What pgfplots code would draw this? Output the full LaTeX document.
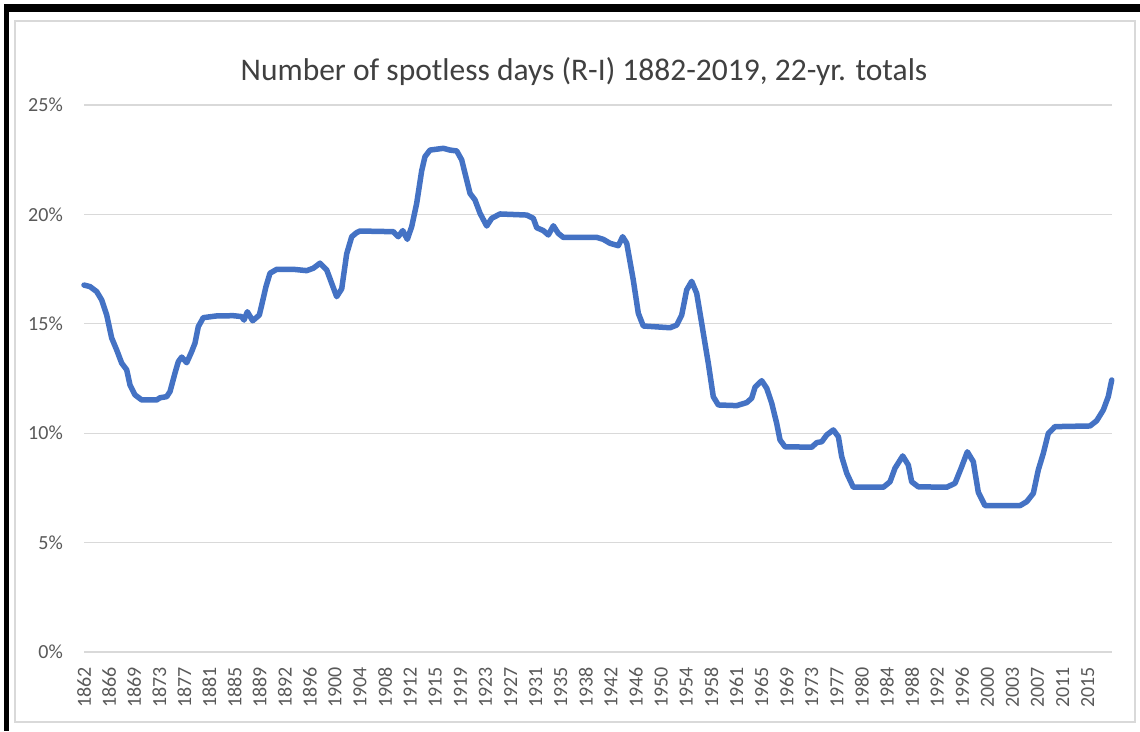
\documentclass[border=0pt]{standalone}
\usepackage{fontspec}
\setmainfont{Carlito}
\usepackage{pgfplots}
\pgfplotsset{compat=1.18}
\definecolor{lineblue}{HTML}{4472C4}
\definecolor{gridgray}{HTML}{D9D9D9}
\definecolor{txtgray}{HTML}{595959}
\definecolor{titlegray}{HTML}{404040}
\begin{document}
\begin{tikzpicture}[x=1pt,y=1pt,font=\fontsize{20}{24}\selectfont]
\useasboundingbox (0,0) rectangle (1140,731);
\fill[white] (0,0) rectangle (1140,731);
\fill[black] (4,0) rectangle (9,727);
\fill[black] (4,719) rectangle (1140,727);
\draw[gridgray, line width=1.2pt] (15,9) rectangle (1135,710);
\node[font=\fontsize{31.5}{36}\selectfont, text=titlegray] at (584,659) {Number of spotless days (R-I) 1882-2019, 22-yr. totals};
\begin{axis}[
  at={(84pt,79pt)}, anchor=south west,
  scale only axis, width=1028pt, height=547pt,
  xmin=1861.75, xmax=2018.79, ymin=0, ymax=25,
  axis line style={draw=none},
  major tick length=0pt,
  tick label style={font=\fontsize{20}{24}\selectfont, text=txtgray},
  ytick={0,5,10,15,20,25},
  yticklabels={0\%,5\%,10\%,15\%,20\%,25\%},
  yticklabel style={anchor=east, inner sep=0pt, xshift=-21pt},
  xtick={1861.75,1865.5833,1869.4167,1873.25,1877.0833,1880.9167,1884.75,1888.5833,1892.4167,1896.25,1900.0833,1903.9167,1907.75,1911.5833,1915.4167,1919.25,1923.0833,1926.9167,1930.75,1934.5833,1938.4167,1942.25,1946.0833,1949.9167,1953.75,1957.5833,1961.4167,1965.25,1969.0833,1972.9167,1976.75,1980.5833,1984.4167,1988.25,1992.0833,1995.9167,1999.75,2003.5833,2007.4167,2011.25,2015.0833},
  xticklabels={1862,1866,1869,1873,1877,1881,1885,1889,1892,1896,1900,1904,1908,1912,1915,1919,1923,1927,1931,1935,1938,1942,1946,1950,1954,1958,1961,1965,1969,1973,1977,1980,1984,1988,1992,1996,2000,2003,2007,2011,2015},
  xticklabel style={rotate=90, anchor=east, inner sep=0pt},
  xticklabel shift=15pt,
  ymajorgrids, xmajorgrids=false,
  grid style={gridgray, line width=1.2pt},
  clip=false,
]
\addplot[lineblue, line width=5.5pt, line join=round, line cap=round, no marks] coordinates {
(1861.75,16.77) (1862.67,16.7) (1863.69,16.47) (1864.45,16.09) (1865.22,15.4)
(1865.98,14.35) (1866.75,13.8) (1867.51,13.2) (1868.27,12.9) (1868.78,12.2)
(1869.54,11.75) (1870.56,11.52) (1872.86,11.52) (1873.36,11.62) (1874.38,11.67)
(1874.89,11.9) (1875.65,12.75) (1876.16,13.27) (1876.68,13.48) (1877.44,13.22)
(1878.2,13.73) (1878.71,14.12) (1879.21,14.87) (1879.97,15.28) (1882.02,15.36)
(1884.56,15.37) (1885.84,15.33) (1886.19,15.17) (1886.7,15.55) (1887.52,15.14)
(1888.53,15.4) (1888.9,15.86) (1889.55,16.7) (1890.16,17.31) (1891.19,17.49)
(1893.72,17.49) (1895.77,17.43) (1896.78,17.54) (1897.8,17.77) (1898.83,17.46)
(1899.59,16.85) (1900.35,16.24) (1901.12,16.6) (1901.88,18.2) (1902.65,18.98)
(1903.41,19.17) (1903.91,19.24) (1909.0,19.21) (1909.76,18.98) (1910.44,19.26)
(1911.14,18.86) (1911.81,19.44) (1912.57,20.5) (1913.34,22.0) (1913.84,22.64)
(1914.61,22.94) (1916.64,23.02) (1917.66,22.94) (1918.69,22.9) (1919.45,22.49)
(1920.21,21.57) (1920.72,20.96) (1921.48,20.66) (1922.25,20.05) (1923.27,19.47)
(1924.03,19.82) (1924.54,19.9) (1925.3,20.02) (1929.38,19.97) (1930.39,19.82)
(1930.91,19.39) (1931.92,19.26) (1932.68,19.06) (1933.45,19.48) (1934.21,19.13)
(1934.97,18.95) (1940.07,18.95) (1941.08,18.86) (1942.1,18.68) (1943.37,18.57)
(1944.04,18.98) (1944.66,18.68) (1945.66,17.0) (1946.43,15.48) (1947.19,14.9)
(1951.27,14.82) (1952.29,14.94) (1953.06,15.4) (1953.82,16.55) (1954.58,16.94)
(1955.35,16.39) (1956.36,14.57) (1957.12,13.2) (1957.88,11.67) (1958.65,11.29)
(1961.46,11.26) (1962.99,11.4) (1963.75,11.6) (1964.26,12.1) (1965.28,12.4)
(1966.05,12.05) (1966.81,11.37) (1967.57,10.45) (1968.08,9.69) (1968.84,9.38)
(1972.92,9.36) (1973.68,9.57) (1974.45,9.61) (1975.21,9.92) (1976.22,10.15)
(1976.99,9.84) (1977.5,8.93) (1978.27,8.17) (1979.27,7.53) (1983.86,7.53)
(1984.88,7.78) (1985.64,8.4) (1986.82,8.96) (1987.67,8.55) (1988.19,7.78)
(1989.2,7.55) (1993.54,7.53) (1994.81,7.71) (1995.83,8.47) (1996.69,9.15)
(1997.6,8.7) (1998.37,7.3) (1999.39,6.69) (2004.74,6.69) (2005.76,6.87)
(2006.77,7.25) (2007.53,8.32) (2008.3,9.08) (2009.06,9.99) (2010.08,10.3)
(2015.43,10.33) (2016.45,10.57) (2017.46,11.06) (2018.22,11.67) (2018.75,12.43)
};
\end{axis}
\end{tikzpicture}
\end{document}
